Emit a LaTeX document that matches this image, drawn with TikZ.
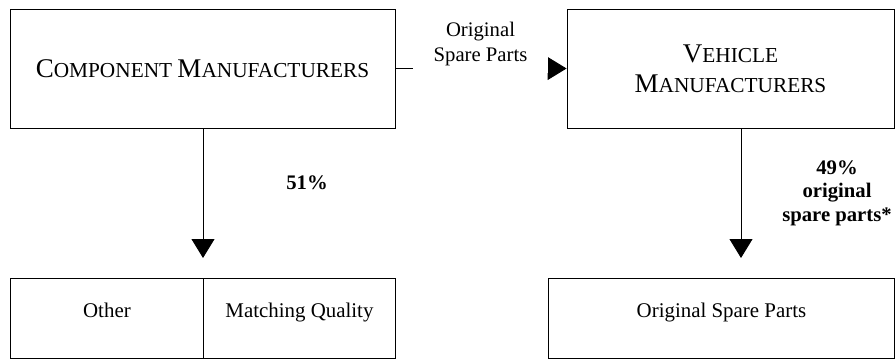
\documentclass[tikz,border=0pt]{standalone}
\usepackage{fontspec}
\setmainfont{Liberation Serif}
\usetikzlibrary{arrows.meta}
\newcommand{\fsc}[2]{{\fontsize{27pt}{30pt}\selectfont #1}{\fontsize{21.3pt}{30pt}\selectfont #2}}
\begin{document}
\begin{tikzpicture}[x=1pt,y=-1pt,
  box/.style={draw, line width=0.9pt, inner sep=0pt, font=\fontsize{20.9pt}{24pt}\selectfont},
  capbox/.style={draw, line width=0.9pt, inner sep=0pt, align=center, font=\fontsize{21.3pt}{30pt}\selectfont},
  arr/.style={line width=0.9pt, -{Triangle[length=19pt,width=23pt]}},
  lab/.style={font=\fontsize{20.7pt}{25pt}\selectfont, align=center, inner sep=0pt},
  blab/.style={font=\fontsize{20.7pt}{23.5pt}\selectfont\bfseries, align=center, inner sep=0pt}]
\useasboundingbox (0,0) rectangle (895,359);
\node[capbox, minimum width=385pt, minimum height=119pt] (cm) at (202.5,68.5) {\fsc{C}{OMPONENT} \fsc{M}{ANUFACTURERS}};
\node[capbox, minimum width=327pt, minimum height=119pt] (vm) at (730.5,68.5) {\fsc{V}{EHICLE}\\\fsc{M}{ANUFACTURERS}};
\node[box, anchor=north west, minimum width=193pt, text height=39pt, text depth=41pt] (oth) at (10,278) {Other};
\node[box, anchor=north west, minimum width=192pt, text height=39pt, text depth=41pt] (mq) at (203,278) {Matching Quality};
\node[box, anchor=north west, minimum width=346pt, text height=39pt, text depth=41pt] (osp) at (548,278) {Original Spare Parts};
\draw[arr] (cm.east) -- (vm.west);
\node[lab, fill=white, minimum width=135pt, minimum height=58pt] (lbl) at (480.5,44) {Original\\Spare Parts};
\draw[arr, shorten >=20pt] (mq.north west |- cm.south) -- (mq.north west);
\coordinate (vs) at ([xshift=10.5pt]vm.south);
\draw[arr, shorten >=20pt] (vs) -- (vs |- osp.north);
\node[blab] (p51) at (307,183) {51\%};
\node[blab] (p49) at (837,193) {49\%\\original\\spare parts*};
\end{tikzpicture}
\end{document}
